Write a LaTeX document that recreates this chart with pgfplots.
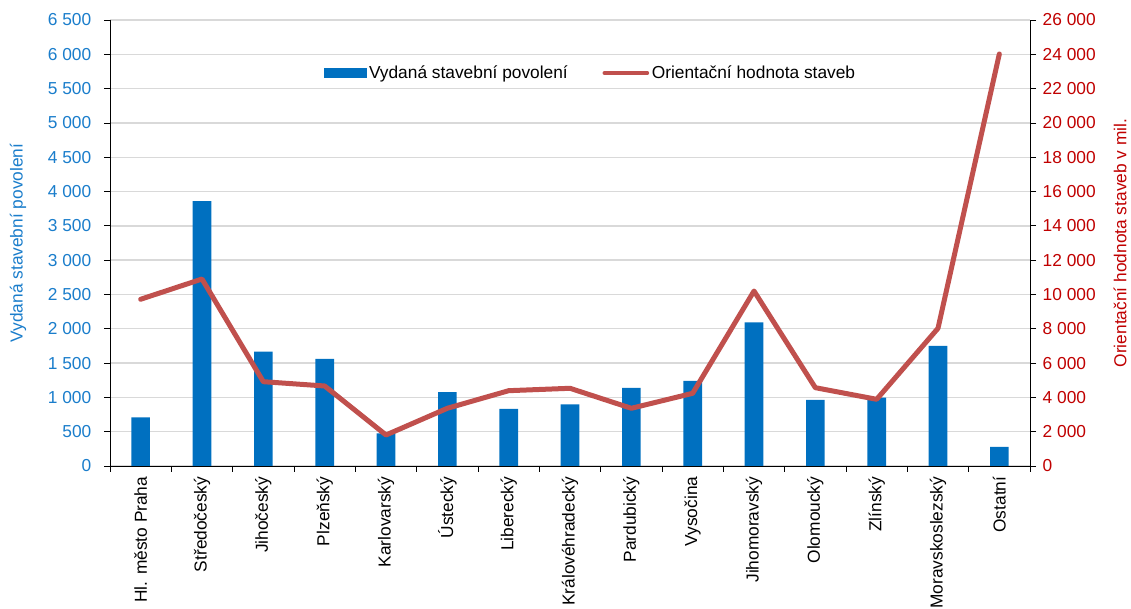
\documentclass[border=0pt]{standalone}
\usepackage{pgfplots}
\pgfplotsset{compat=1.18}
\usepackage{fontspec}
\setmainfont{Liberation Sans}
\definecolor{barblue}{HTML}{0070C0}
\definecolor{linered}{HTML}{C0504D}
\definecolor{axblue}{HTML}{1A7DCB}
\definecolor{axred}{HTML}{C00000}
\definecolor{gridgray}{HTML}{D9D9D9}
\begin{document}
\begin{tikzpicture}
\pgfplotsset{
  every axis/.append style={
    scale only axis, width=690pt, height=334.5pt,
    xmin=-0.5, xmax=14.5,
    font=\fontsize{13}{15}\selectfont,
    /pgf/number format/assume math mode=true,
    /pgf/number format/1000 sep={\ },
    tick align=outside,
    major tick length=4.5pt,
    tick style={black, semithick},
    axis line style={black, semithick},
  }
}
\begin{axis}[name=ax1,
  axis y line*=left, axis x line*=bottom,
  ymin=0, ymax=6500, ytick={0,500,...,6500},
  ymajorgrids, grid style={gridgray, line width=1pt},
  yticklabel style={text=axblue, xshift=-6pt},
  ylabel={Vydaná stavební povolení},
  ylabel style={text=axblue, at={(axis description cs:-0.1,0.5)}, anchor=center},
  xtick={-0.5,0.5,...,14.5}, xticklabels={},
  extra x ticks={0,...,14},
  extra x tick labels={Hl. město Praha, Středočeský, Jihočeský, Plzeňský, Karlovarský, Ústecký, Liberecký, Královéhradecký, Pardubický, Vysočina, Jihomoravský, Olomoucký, Zlínský, Moravskoslezský, Ostatní},
  extra x tick style={major tick length=0pt, tick label style={rotate=90, anchor=east, text=black, xshift=-4.5pt}},
]
\addplot[ybar, bar width=14pt, fill=barblue, draw=none] coordinates {
  (0,710) (1,3860) (2,1666) (3,1560) (4,476) (5,1078) (6,831) (7,899)
  (8,1137) (9,1239) (10,2094) (11,962) (12,995) (13,1749) (14,277)
};
\end{axis}
\begin{axis}[
  axis y line*=right, axis x line=none,
  ymin=0, ymax=26000, ytick={0,2000,...,26000}, scaled y ticks=false,
  yticklabel style={text=axred, xshift=1.5pt},
  ylabel={Orientační hodnota staveb v mil.},
  ylabel style={text=axred, at={(axis description cs:1.0978,0.5)}, anchor=center},
  legend style={at={(0.523,0.881)}, anchor=center, draw=none, fill=white,
    font=\fontsize{13}{15}\selectfont},
  legend columns=2,
  legend cell align=left,
  /tikz/every even column/.append style={column sep=24pt},
]
\addlegendimage{legend image code/.code={\fill[barblue] (0pt,-3.5pt) rectangle (31pt,3.5pt);}}
\addlegendentry{Vydaná stavební povolení}
\addplot[linered, line width=3.75pt, line join=round, line cap=round,
  legend image code/.code={\draw[linered, line width=3pt, line cap=round] (1pt,0pt) -- (33pt,0pt);}] coordinates {
  (0,9720) (1,10900) (2,4915) (3,4664) (4,1807) (5,3364) (6,4390) (7,4530)
  (8,3364) (9,4238) (10,10200) (11,4565) (12,3888) (13,8028) (14,24020)
};
\addlegendentry{Orientační hodnota staveb}
\end{axis}
\pgfresetboundingbox
\path[use as bounding box] ([xshift=-82.5pt,yshift=-107.25pt]ax1.south west) rectangle ([xshift=75.75pt,yshift=15pt]ax1.north east);
\end{tikzpicture}
\end{document}
